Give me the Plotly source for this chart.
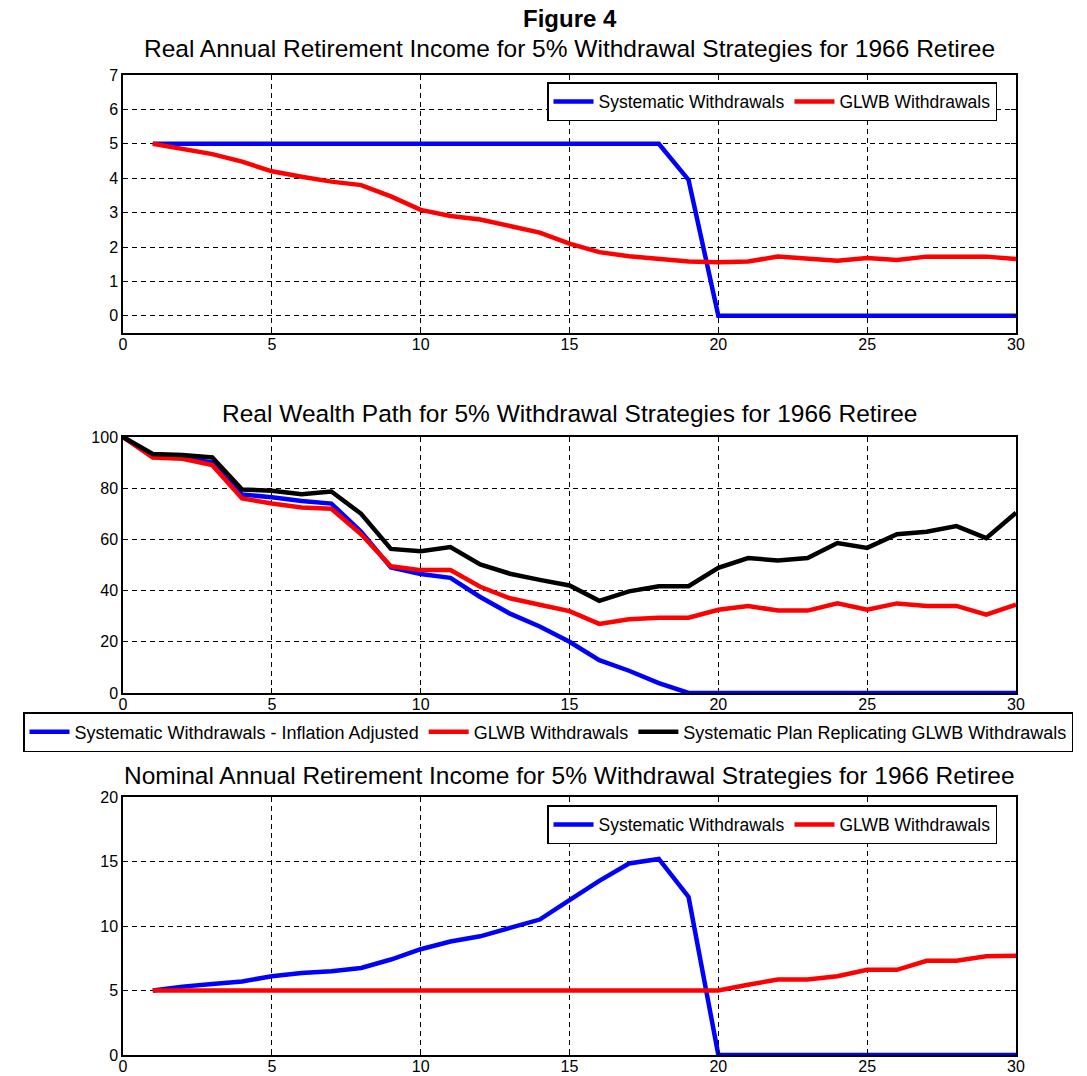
import plotly.graph_objects as go

# ---- data -------------------------------------------------------------
years_income = list(range(1, 31))
years_wealth = list(range(0, 31))

real_income_systematic = [5.0] * 18 + [3.95, 0.0] + [0.0] * 10
real_income_glwb = [5.0, 4.85, 4.7, 4.48, 4.2, 4.04, 3.9, 3.8, 3.47, 3.08,
                    2.9, 2.8, 2.6, 2.42, 2.1, 1.85, 1.73, 1.65, 1.58, 1.56,
                    1.58, 1.72, 1.66, 1.6, 1.68, 1.62, 1.72, 1.72, 1.72, 1.65]

wealth_systematic = [100, 92.5, 92, 90, 77.5, 76.5, 75, 74, 63, 49,
                     46.5, 45, 37.5, 31, 26, 20, 12.8, 8.7, 3.9, 0,
                     0, 0, 0, 0, 0, 0, 0, 0, 0, 0, 0]
wealth_glwb = [100, 92, 91.5, 89, 76, 74, 72.5, 72, 62, 49.5,
               48, 48, 41.5, 37, 34.5, 32, 27, 28.8, 29.4, 29.4,
               32.5, 34, 32.2, 32.2, 35, 32.5, 35, 34, 34, 30.6, 34.5]
wealth_replicating = [100, 93.4, 93, 92, 79.5, 79, 77.6, 78.7, 70, 56.3,
                      55.4, 57, 50.2, 46.6, 44.2, 42, 36, 39.7, 41.7, 41.7,
                      48.9, 52.7, 51.8, 52.7, 58.6, 56.7, 62, 63, 65.2, 60.5, 70.4]

nominal_income_systematic = [5.0, 5.3, 5.5, 5.7, 6.1, 6.35, 6.5, 6.75, 7.4, 8.2,
                             8.8, 9.2, 9.85, 10.5, 12.0, 13.5, 14.85, 15.2, 12.25, 0.0,
                             0, 0, 0, 0, 0, 0, 0, 0, 0, 0]
nominal_income_glwb = [5.0] * 20 + [5.45, 5.85, 5.85, 6.1, 6.6, 6.6, 7.3, 7.3, 7.65, 7.7]

x_ticks = [0, 5, 10, 15, 20, 25, 30]

titles = [
    "Real Annual Retirement Income for 5% Withdrawal Strategies for 1966 Retiree",
    "Real Wealth Path for 5% Withdrawal Strategies for 1966 Retiree",
    "Nominal Annual Retirement Income for 5% Withdrawal Strategies for 1966 Retiree",
]

BLUE, RED, BLACK = "#0000FF", "#FF0000", "#000000"
FONT = "Liberation Sans, Arial, sans-serif"
LW = 4.5

fig = go.Figure()

# panel 1: real income
fig.add_trace(go.Scatter(x=years_income, y=real_income_systematic, mode="lines",
                         line=dict(color=BLUE, width=LW), name="Systematic Withdrawals",
                         xaxis="x", yaxis="y", legend="legend"))
fig.add_trace(go.Scatter(x=years_income, y=real_income_glwb, mode="lines",
                         line=dict(color=RED, width=LW), name="GLWB Withdrawals",
                         xaxis="x", yaxis="y", legend="legend"))

# panel 2: real wealth
fig.add_trace(go.Scatter(x=years_wealth, y=wealth_systematic, mode="lines",
                         line=dict(color=BLUE, width=LW),
                         name="Systematic Withdrawals - Inflation Adjusted",
                         xaxis="x2", yaxis="y2", legend="legend2"))
fig.add_trace(go.Scatter(x=years_wealth, y=wealth_glwb, mode="lines",
                         line=dict(color=RED, width=LW), name="GLWB Withdrawals",
                         xaxis="x2", yaxis="y2", legend="legend2"))
fig.add_trace(go.Scatter(x=years_wealth, y=wealth_replicating, mode="lines",
                         line=dict(color=BLACK, width=LW),
                         name="Systematic Plan Replicating GLWB Withdrawals",
                         xaxis="x2", yaxis="y2", legend="legend2"))

# panel 3: nominal income
fig.add_trace(go.Scatter(x=years_income, y=nominal_income_systematic, mode="lines",
                         line=dict(color=BLUE, width=LW), name="Systematic Withdrawals",
                         xaxis="x3", yaxis="y3", legend="legend3"))
fig.add_trace(go.Scatter(x=years_income, y=nominal_income_glwb, mode="lines",
                         line=dict(color=RED, width=LW), name="GLWB Withdrawals",
                         xaxis="x3", yaxis="y3", legend="legend3"))

# the paper spans the full width so the wide middle legend fits on one row;
# axes sit between pixel columns 123 and 1016, rows 75 and 1055
W, H = 1087, 1076
L, R, T, B = 123, 1016, 75, 1055
ph = B - T


def py(pix):
    return (B - pix) / ph


def px(pix):
    return pix / W


axis_common = dict(
    showline=True, linecolor="black", linewidth=1.5, mirror="allticks",
    ticks="inside", ticklen=5, tickcolor="black", tickwidth=1,
    showgrid=True, gridcolor="black", gridwidth=1, griddash="5px,4px",
    zeroline=False, automargin=False,
    tickfont=dict(family=FONT, size=16, color="black"),
)

domains = [(py(333), py(75)), (py(693), py(437)), (py(1055), py(797))]
yranges = [[-0.5, 7], [0, 100], [0, 20]]
yticks = [list(range(0, 8)), [0, 20, 40, 60, 80, 100], [0, 5, 10, 15, 20]]

for i in range(3):
    sfx = "" if i == 0 else str(i + 1)
    fig.update_layout(**{
        f"xaxis{sfx}": dict(axis_common, domain=[px(L), px(R)], range=[0, 30],
                            tickvals=x_ticks, anchor=f"y{sfx}",
                            ticklabelstandoff=-4),
        f"yaxis{sfx}": dict(axis_common, domain=list(domains[i]), range=yranges[i],
                            tickvals=yticks[i], anchor=f"x{sfx}"),
    })

legend_common = dict(
    orientation="h", bgcolor="white", bordercolor="black", borderwidth=1.5,
    font=dict(family=FONT, size=17.5, color="black"), xref="paper", yref="paper",
    itemwidth=40, traceorder="normal",
)

fig.update_layout(
    width=W, height=H,
    margin=dict(l=0, r=0, t=T, b=H - B, autoexpand=False),
    paper_bgcolor="white", plot_bgcolor="white",
    showlegend=True,
    legend=dict(legend_common, x=px(997), y=py(82), xanchor="right", yanchor="top"),
    legend2=dict(legend_common, x=px(548), y=py(712), xanchor="center", yanchor="top",
                 font=dict(family=FONT, size=18, color="black")),
    legend3=dict(legend_common, x=px(997), y=py(805), xanchor="right", yanchor="top"),
)

cx = px((L + R) / 2)
annotations = [
    dict(text="<b>Figure 4</b>", x=cx, y=py(19), font=dict(size=24)),
    dict(text=titles[0], x=cx, y=py(48), font=dict(size=24.5)),
    dict(text=titles[1], x=cx, y=py(413), font=dict(size=24.5)),
    dict(text=titles[2], x=cx, y=py(775), font=dict(size=24.5)),
]
for a in annotations:
    a.update(xref="paper", yref="paper", showarrow=False, xanchor="center",
             yanchor="middle")
    a["font"].update(family=FONT, color="black")
fig.update_layout(annotations=annotations)

fig.write_html("out.html")
